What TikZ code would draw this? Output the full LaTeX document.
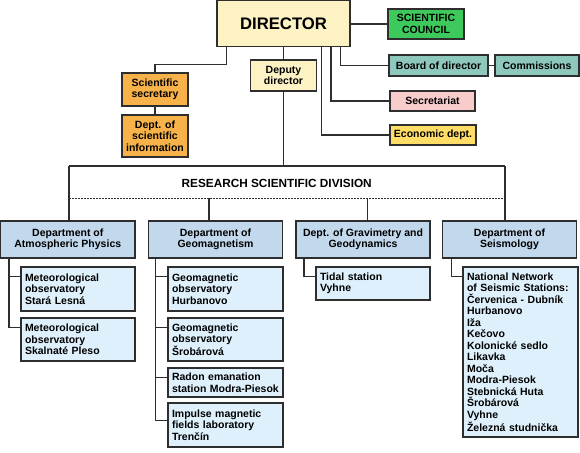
\documentclass[tikz,border=0pt]{standalone}
\usepackage{fontspec}
\setmainfont{Liberation Sans}
\definecolor{linec}{HTML}{2E2E2E}
\definecolor{dirc}{HTML}{FDF2C4}
\definecolor{councilc}{HTML}{3EC95C}
\definecolor{boardc}{HTML}{8EC8BC}
\definecolor{secrc}{HTML}{F9CCCC}
\definecolor{econc}{HTML}{FFDD66}
\definecolor{orangec}{HTML}{F7B24A}
\definecolor{deptc}{HTML}{C2D8EC}
\definecolor{subc}{HTML}{DEF0FB}
\begin{document}
\begin{tikzpicture}[x=1pt,y=-1pt,
  box/.style={draw=linec, line width=1.2pt, inner sep=0pt, align=center,
    font=\bfseries\fontsize{10.5}{11.5}\selectfont},
  subbox/.style={box, fill=subc, align=left, inner xsep=4pt},
  deptbox/.style={box, fill=deptc, minimum width=134pt, minimum height=37pt},
  conn/.style={draw=linec, line width=1.2pt}]
\useasboundingbox (0,0) rectangle (580,452);
% top
\node[box, fill=dirc, minimum width=133pt, minimum height=45.5pt,
  font=\bfseries\fontsize{16.7}{20}\selectfont] (director) at (283.5,23.4) {DIRECTOR};
\node[box, fill=councilc, minimum width=76pt, minimum height=30pt] (council) at (426,24) {SCIENTIFIC\\COUNCIL};
\node[box, fill=boardc, minimum width=99pt, minimum height=21pt] (board) at (438.5,65.5) {Board of director};
\node[box, fill=boardc, minimum width=84pt, minimum height=21pt] (comm) at (537,65.5) {Commissions};
\node[box, fill=secrc, minimum width=85pt, minimum height=20pt] (secr) at (432.5,101) {Secretariat};
\node[box, fill=econc, minimum width=86pt, minimum height=20pt] (econ) at (433,135) {Economic dept.};
\node[box, fill=orangec, minimum width=66pt, minimum height=33pt] (scisec) at (155,89.5) {Scientific\\secretary};
\node[box, fill=orangec, minimum width=66pt, minimum height=42pt] (info) at (155,136) {Dept. of\\scientific\\information};
\node[box, fill=dirc, minimum width=66pt, minimum height=31pt] (deputy) at (283.5,75.5) {Deputy\\director};
% connectors top
\draw[conn] (director.east |- council.west) -- (council.west);
\draw[conn] ([xshift=57.2pt]director.south) |- (board.west);
\draw[conn] (board.east) -- (comm.west);
\draw[conn] ([xshift=47.5pt]director.south) |- (secr.west);
\draw[conn] ([xshift=38.2pt]director.south) |- (econ.west);
\draw[conn] ([xshift=-56.8pt]director.south) -- ++(0,18) -| (scisec.north);
\draw[conn] (scisec.south) -- (info.north);
\draw[conn] (director.south) -- (deputy.north);
% division
\coordinate (hm) at (283.5,166);
\coordinate (hL) at (69,166);
\coordinate (hR) at (505,166);
\coordinate (dL) at (69,198.3);
\coordinate (dR) at (505,198.3);
\draw[conn] (deputy.south) -- (hm);
\draw[conn] (hL) -- (hR);
\draw[linec, line width=1.2pt, dash pattern=on 1.5pt off 1.5pt] (dL) -- (dR);
\node[font=\bfseries\fontsize{11.8}{14}\selectfont, inner sep=0pt] (rsd) at (276.7,183.2) {RESEARCH SCIENTIFIC DIVISION};
% departments
\node[deptbox, minimum width=134.3pt] (d1) at (67.8,239.5) {Department of\\Atmospheric Physics};
\node[deptbox] (d2) at (215.5,239.5) {Department of\\Geomagnetism};
\node[deptbox] (d3) at (363,239.5) {Dept. of Gravimetry and\\Geodynamics};
\node[deptbox] (d4) at (509.5,239.5) {Department of\\Seismology};
\draw[conn] (hL) -- (hL |- d1.north);
\draw[conn] (hR) -- (hR |- d4.north);
\draw[conn] (209,198.3) -- (209,0 |- d2.north);
\draw[conn] (367.7,198.3) -- (367.7,0 |- d3.north);
% sub boxes
\node[subbox, text width=106pt, minimum height=44pt] (s11) at (78,289) {Meteorological\\observatory\\Stará Lesná};
\node[subbox, text width=106pt, minimum height=43pt] (s12) at (78,339.5) {Meteorological\\observatory\\Skalnaté Pleso};
\node[subbox, text width=107pt, minimum height=44pt] (s21) at (225.5,289) {Geomagnetic\\observatory\\Hurbanovo};
\node[subbox, text width=107pt, minimum height=43pt] (s22) at (225.5,339.5) {Geomagnetic\\observatory\\Šrobárová};
\node[subbox, text width=107pt, minimum height=29pt] (s23) at (225.5,382.5) {Radon emanation\\station Modra-Piesok};
\node[subbox, text width=107pt, minimum height=44pt] (s24) at (225.5,425) {Impulse magnetic\\fields laboratory\\Trenčín};
\node[subbox, text width=106pt, minimum height=33pt] (s31) at (373,283.5) {Tidal station\\Vyhne};
\node[subbox, text width=107pt, minimum height=170pt] (s41) at (520.5,352) {National Network\\of Seismic Stations:\\Červenica - Dubník\\Hurbanovo\\Iža\\Kečovo\\Kolonické sedlo\\Likavka\\Moča\\Modra-Piesok\\Stebnická Huta\\Šrobárová\\Vyhne\\Železná studnička};
% sub connectors
\draw[conn] (d1.south -| 9,0) |- (s12.west |- 0,327.7);
\draw[conn] (9,276.7) -- (s11.west |- 0,276.7);
\draw[conn] (d2.south -| 155.7,0) |- (s24.west |- 0,420.7);
\draw[conn] (155.7,276.5) -- (s21.west |- 0,276.5);
\draw[conn] (155.7,327.7) -- (s22.west |- 0,327.7);
\draw[conn] (155.7,377.7) -- (s23.west |- 0,377.7);
\draw[conn] (d3.south -| 304,0) |- (s31.west |- 0,276.7);
\draw[conn] (d4.south -| 451.7,0) |- (s41.west |- 0,276.7);
\end{tikzpicture}
\end{document}
